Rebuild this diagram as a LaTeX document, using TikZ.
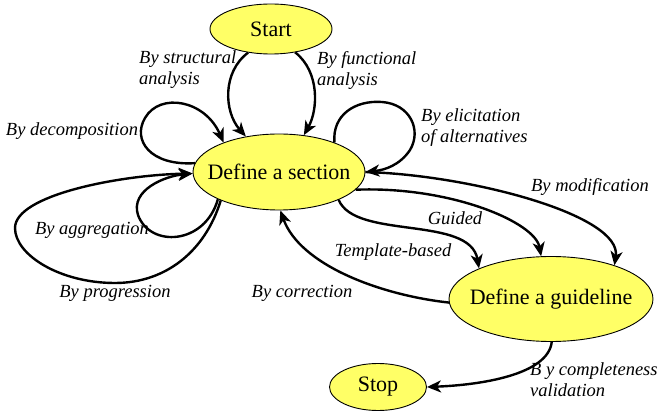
\documentclass[tikz,border=0pt]{standalone}
\usepackage{fontspec}
\setmainfont{Liberation Serif}
\usetikzlibrary{shapes.geometric,arrows.meta}
\definecolor{stateyellow}{RGB}{255,255,102}
\tikzset{
  state/.style={ellipse, draw=black, line width=0.9pt, fill=stateyellow, inner sep=0pt},
  statetext/.style={font=\fontsize{22}{26}\selectfont},
  move/.style={line width=2.4pt, -{Stealth[length=14pt,width=12pt,inset=4pt]}},
  strat/.style={font=\fontsize{18.5}{21}\selectfont\itshape, inner sep=0pt, align=left}
}
\begin{document}
\begin{tikzpicture}[x=1pt,y=-1pt]
\useasboundingbox (0,0) rectangle (672,411);

% intentions
\node[state, minimum width=122pt, minimum height=50pt,
      label={[statetext]center:Start}] (start) at (271,29) {};
\node[state, minimum width=172pt, minimum height=76pt,
      label={[statetext]center:Define a section}] (sec) at (279,172) {};
\node[state, minimum width=204pt, minimum height=85pt,
      label={[statetext]center:Define a guideline}] (gui) at (551,299) {};
\node[state, minimum width=97pt, minimum height=47pt,
      label={[statetext]center:Stop}] (stop) at (378,387) {};

% strategies
\draw[move] (start.226) .. controls (222,72) and (224,112) .. (sec.133);
\draw[move] (start.316) .. controls (320,72) and (318,110) .. (sec.56);
\draw[move] (sec.174) .. controls (150,166) and (132,140) .. (145,118)
            .. controls (160,92) and (205,100) .. (sec.152);
\draw[move] (sec.204) .. controls (205,245) and (150,248) .. (138,215)
            .. controls (130,190) and (165,176) .. (sec.181);
\draw[move] (sec.206) .. controls (205,252) and (165,283) .. (115,283)
            .. controls (60,283) and (15,255) .. (15,228)
            .. controls (15,195) and (120,175) .. (sec.181);
\draw[move] (sec.28) .. controls (332,115) and (355,100) .. (382,102)
            .. controls (410,104) and (422,130) .. (410,150)
            .. controls (400,165) and (385,170) .. (sec.0);
\draw[move] (sec.0) .. controls (470,175) and (622,215) .. (gui.28);
\draw[move] (sec.347) .. controls (450,186) and (535,222) .. (gui.103);
\draw[move] (sec.335) .. controls (355,240) and (470,215) .. (gui.157);
\draw[move] (gui.182) .. controls (380,295) and (300,265) .. (sec.272);
\draw[move] (gui.271) .. controls (548,375) and (480,385) .. (stop.0);

% strategy labels
\node[strat, anchor=west] (lstruct) at (139,70) {By structural\\analysis};
\node[strat, anchor=west] (lfunc) at (317,70) {By functional\\analysis};
\node[strat] (ldecomp) at (72,131) {By decomposition};
\node[strat, anchor=west] (lelicit) at (421,128) {By elicitation\\of alternatives};
\node[strat] (lmodif) at (590,187) {By modification};
\node[strat] (laggreg) at (92,230) {By aggregation};
\node[strat] (lguided) at (455,218) {Guided};
\node[strat] (ltemplate) at (393,252) {Template-based};
\node[strat] (lprogr) at (115,293) {By progression};
\node[strat] (lcorr) at (302,293) {By correction};
\node[strat, anchor=west] (lcomplete) at (530,380) {B y completeness\\validation};
\end{tikzpicture}
\end{document}
